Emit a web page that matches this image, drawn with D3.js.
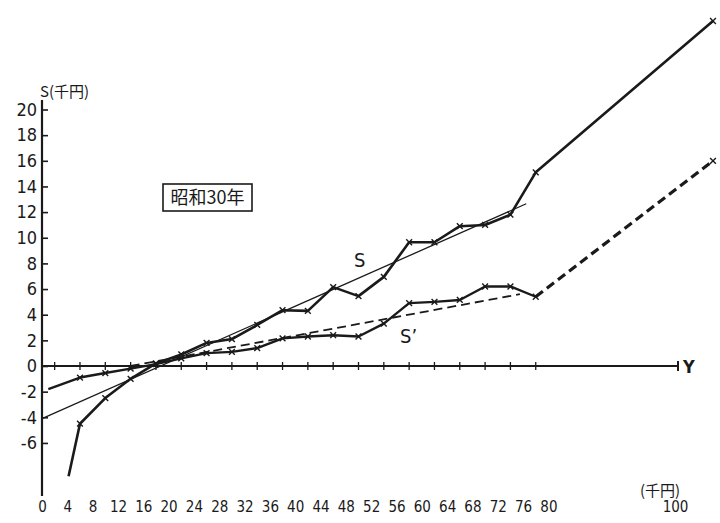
<!DOCTYPE html>
<html>
<head>
<meta charset="utf-8">
<script src="https://cdn.jsdelivr.net/npm/d3@7"></script>
<style>
  body { margin: 0; background: #fff; }
  svg { display: block; }
  text { fill: #1a1a1a; }
</style>
</head>
<body>
<svg id="chart" width="720" height="523"></svg>
<script>
// Income class midpoints (千円) and savings S (千円)
const sIncome = [4.2, 6, 10, 14, 18, 22, 26, 30, 34, 38, 42, 46, 50, 54, 58, 62, 66, 70, 74, 78, 106];
const sValues = [-8.6, -4.5, -2.5, -1.0, 0.2, 0.9, 1.8, 2.1, 3.2, 4.35, 4.3, 6.15, 5.45, 6.95, 9.65, 9.65, 10.9, 11.0, 11.8, 15.1, 26.9];

// Savings S' (千円)
const spIncome = [1, 6, 10, 14, 18, 22, 26, 30, 34, 38, 42, 46, 50, 54, 58, 62, 66, 70, 74, 78];
const spValues = [-1.8, -0.9, -0.55, -0.2, 0.15, 0.6, 1.0, 1.1, 1.4, 2.15, 2.3, 2.4, 2.3, 3.3, 4.9, 5.0, 5.15, 6.2, 6.2, 5.4];

// S' extended to the top income class
const spExtIncome = [78, 106];
const spExtValues = [5.4, 16.0];

// Fitted straight lines
const sFitIncome = [0, 76.5];
const sFitValues = [-4.1, 12.65];
const spFitIncome = [14, 75.5];
const spFitValues = [0.0, 5.6];

// Axis labels
const yTicks = [20, 18, 16, 14, 12, 10, 8, 6, 4, 2, 0, -2, -4, -6];
const xLabels = [0, 4, 8, 12, 16, 20, 24, 28, 32, 36, 40, 44, 48, 52, 56, 60, 64, 68, 72, 76, 80, 100];
const xMarks = d3.range(2, 80, 4);

const svg = d3.select("#chart");
const ink = "#1a1a1a";
const numFont = "'DejaVu Sans Condensed', 'DejaVu Sans', sans-serif";
const jpFont = "'Noto Sans CJK JP', 'Noto Sans', sans-serif";

const x = d3.scaleLinear().domain([0, 100]).range([42, 675]);
const y = d3.scaleLinear().domain([0, 20]).range([366, 109.5]);

const pts = (xs, ys) => xs.map((v, i) => [v, ys[i]]);
const line = d3.line().x(d => x(d[0])).y(d => y(d[1]));

// Vertical axis with inward ticks
const yAxis = svg.append("g")
  .attr("transform", `translate(${x(0)},0)`)
  .call(d3.axisLeft(y).tickValues(yTicks).tickSizeInner(-6).tickSizeOuter(0).tickPadding(5)
    .tickFormat(d => d < 0 ? "-" + Math.abs(d) : d));
yAxis.select(".domain").remove();
yAxis.selectAll("line").attr("stroke", ink).attr("stroke-width", 1.6);
yAxis.selectAll("text").attr("font-family", numFont).attr("font-size", 18).attr("fill", ink);
svg.append("line")
  .attr("x1", x(0)).attr("x2", x(0)).attr("y1", 100).attr("y2", 496)
  .attr("stroke", ink).attr("stroke-width", 2.2);

// Horizontal axis line with class-midpoint marks
svg.append("line")
  .attr("x1", x(0)).attr("x2", 678).attr("y1", y(0)).attr("y2", y(0))
  .attr("stroke", ink).attr("stroke-width", 2.2);
svg.append("g").selectAll("line").data(xMarks).join("line")
  .attr("x1", d => x(d)).attr("x2", d => x(d))
  .attr("y1", y(0) - 4).attr("y2", y(0) + 4)
  .attr("stroke", ink).attr("stroke-width", 1.3);
svg.append("line")
  .attr("x1", 678).attr("x2", 678).attr("y1", y(0) - 5).attr("y2", y(0) + 5)
  .attr("stroke", ink).attr("stroke-width", 2);

// Income labels along the bottom
const xAxis = svg.append("g")
  .attr("transform", "translate(0,498)")
  .call(d3.axisBottom(x).tickValues(xLabels).tickSize(0).tickPadding(3));
xAxis.select(".domain").remove();
xAxis.selectAll("text").attr("font-family", numFont).attr("font-size", 15).attr("fill", ink);

// Fitted lines
svg.append("path").datum(pts(sFitIncome, sFitValues))
  .attr("d", line).attr("fill", "none").attr("stroke", ink).attr("stroke-width", 1.3);
svg.append("path").datum(pts(spFitIncome, spFitValues))
  .attr("d", line).attr("fill", "none").attr("stroke", ink).attr("stroke-width", 1.8)
  .attr("stroke-dasharray", "9,5");

// Savings lines
svg.append("path").datum(pts(sIncome, sValues))
  .attr("d", line).attr("fill", "none").attr("stroke", ink).attr("stroke-width", 2.6)
  .attr("stroke-linejoin", "round");
svg.append("path").datum(pts(spIncome, spValues))
  .attr("d", line).attr("fill", "none").attr("stroke", ink).attr("stroke-width", 2.4)
  .attr("stroke-linejoin", "round");
svg.append("path").datum(pts(spExtIncome, spExtValues))
  .attr("d", line).attr("fill", "none").attr("stroke", ink).attr("stroke-width", 3.2)
  .attr("stroke-dasharray", "9,5");

// Point marks
function crosses(data) {
  const g = svg.append("g").attr("stroke", ink).attr("stroke-width", 1.4);
  g.selectAll("path").data(data).join("path")
    .attr("d", d => {
      const cx = x(d[0]), cy = y(d[1]), r = 2.9;
      return `M${cx - r},${cy - r}L${cx + r},${cy + r}M${cx - r},${cy + r}L${cx + r},${cy - r}`;
    });
}
crosses(pts(sIncome, sValues).slice(1));
crosses(pts(spIncome, spValues).slice(1));
crosses([[spExtIncome[1], spExtValues[1]]]);

// Text annotations
svg.append("text").attr("x", 40).attr("y", 97)
  .attr("font-family", jpFont).attr("font-size", 15).text("S(千円)");
svg.append("text").attr("x", 640).attr("y", 496)
  .attr("font-family", jpFont).attr("font-size", 15).text("(千円)");
svg.append("text").attr("x", 683).attr("y", 373)
  .attr("font-family", numFont).attr("font-size", 18).attr("font-weight", "bold").text("Y");
svg.append("text").attr("x", 354).attr("y", 267)
  .attr("font-family", numFont).attr("font-size", 20).text("S");
svg.append("text").attr("x", 400).attr("y", 343)
  .attr("font-family", numFont).attr("font-size", 20).text("S’");

svg.append("rect").attr("x", 163).attr("y", 184).attr("width", 89).attr("height", 27)
  .attr("fill", "none").attr("stroke", ink).attr("stroke-width", 1.6);
svg.append("text").attr("x", 207.5).attr("y", 204).attr("text-anchor", "middle")
  .attr("font-family", jpFont).attr("font-size", 18).text("昭和30年");
</script>
</body>
</html>
